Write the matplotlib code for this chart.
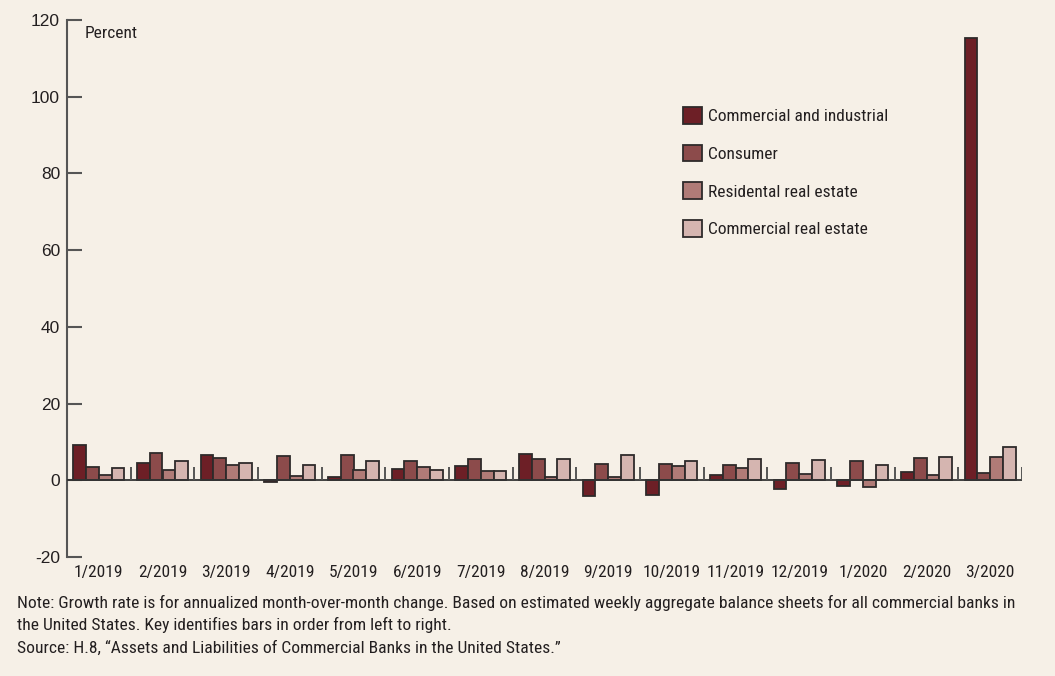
import matplotlib
matplotlib.use("Agg")
import matplotlib.pyplot as plt
import numpy as np

months = ["1/2019", "2/2019", "3/2019", "4/2019", "5/2019", "6/2019", "7/2019",
          "8/2019", "9/2019", "10/2019", "11/2019", "12/2019", "1/2020", "2/2020", "3/2020"]
commercial_industrial = [9.2, 4.4, 6.7, -0.5, 0.9, 3.0, 3.6, 6.9, -4.0, -3.8, 1.4, -2.4, -1.4, 2.1, 115.4]
consumer = [3.4, 7.1, 5.9, 6.4, 6.5, 5.1, 5.6, 5.6, 4.3, 4.3, 4.0, 4.4, 4.9, 5.8, 1.8]
residential = [1.3, 2.7, 4.0, 1.1, 2.7, 3.4, 2.4, 0.8, 0.9, 3.7, 3.1, 1.6, -1.7, 1.4, 6.1]
commercial_re = [3.2, 5.0, 4.5, 4.0, 5.1, 2.8, 2.3, 5.6, 6.5, 5.1, 5.5, 5.4, 3.9, 6.1, 8.6]
series_names = ["Commercial and industrial", "Consumer", "Residental real estate", "Commercial real estate"]
y_ticks = [-20, 0, 20, 40, 60, 80, 100, 120]

colors = ["#6d1f26", "#8c4b4b", "#b07b77", "#d5b5b0"]
bg = "#f6f0e7"
txt = "#231f20"
edge = "#2e2a2a"

plt.rcParams['font.family'] = ['Roboto Condensed', 'Archivo Narrow', 'DejaVu Sans']
plt.rcParams['text.color'] = txt

fig = plt.figure(figsize=(10.55, 6.76), dpi=100, facecolor=bg)
ax = fig.add_axes([67/1055, 1 - 557/676, (1022 - 67)/1055, (557 - 20)/676])
ax.set_facecolor(bg)

x = np.arange(len(months))
w = 0.2
data = [commercial_industrial, consumer, residential, commercial_re]
for i, (vals, c, name) in enumerate(zip(data, colors, series_names)):
    ax.bar(x + (i - 1.5) * w, vals, width=w, color=c, edgecolor=edge,
           linewidth=1.3, label=name, zorder=3)

ax.set_xlim(-0.5, len(months) - 0.5)
ax.set_ylim(-20, 120)

# zero line and group separators
ax.axhline(0, color="#333333", lw=1.3, zorder=4)
ax.vlines(np.arange(len(months)) + 0.5, 0, 3.4, color="#555555", lw=1.4, zorder=4)

for s in ["top", "right", "bottom"]:
    ax.spines[s].set_visible(False)
ax.spines["left"].set_color("#555555")
ax.spines["left"].set_linewidth(1.5)

ax.set_yticks(y_ticks)
ax.set_yticklabels([str(v) for v in y_ticks], family=['Liberation Sans', 'DejaVu Sans'])
ax.tick_params(axis="y", direction="in", length=11, width=1.5, color="#555555",
               labelsize=12.5, labelcolor=txt, pad=5)
ax.set_xticks(x)
ax.set_xticklabels(months)
ax.tick_params(axis="x", length=0, labelsize=12.5, labelcolor=txt, pad=6)

ax.text(0.018, 0.988, "Percent", transform=ax.transAxes, fontsize=12.5,
        ha="left", va="top", color=txt)

leg = ax.legend(loc="upper left", bbox_to_anchor=(676/1055, 1 - 100/676),
                bbox_transform=fig.transFigure, frameon=False, fontsize=12.5,
                handlelength=1.1, handleheight=1.1, handletextpad=0.35,
                labelspacing=1.18, borderaxespad=0)
for t in leg.get_texts():
    t.set_color(txt)

fig.text(17/1055, 1 - 603/676,
         "Note: Growth rate is for annualized month-over-month change. Based on estimated weekly aggregate balance sheets for all commercial banks in",
         fontsize=12.6, ha="left", va="center", color=txt)
fig.text(17/1055, 1 - 625/676,
         "the United States. Key identifies bars in order from left to right.",
         fontsize=12.6, ha="left", va="center", color=txt)
fig.text(17/1055, 1 - 648/676,
         "Source: H.8, \u201cAssets and Liabilities of Commercial Banks in the United States.\u201d",
         fontsize=12.6, ha="left", va="center", color=txt)

fig.savefig("out.png", dpi=100, facecolor=bg)
